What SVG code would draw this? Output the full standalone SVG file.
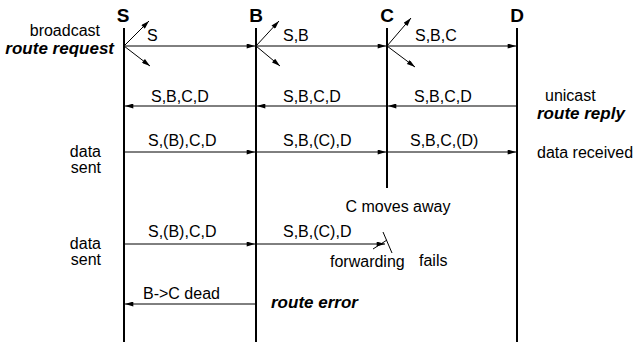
<svg xmlns="http://www.w3.org/2000/svg" width="637" height="343" viewBox="0 0 637 343">
<style>
text{font-family:"Liberation Sans",Arial,sans-serif;font-size:16px;fill:#000}
.h{font-size:19px;font-weight:bold;text-anchor:middle}
.bi{font-weight:bold;font-style:italic;font-size:17px}
.life{stroke:#000;stroke-width:2;fill:none}
.msg{stroke:#000;stroke-width:1;fill:none;marker-end:url(#ah)}
.br{stroke:#000;stroke-width:1;fill:none;marker-end:url(#ah)}
</style>
<defs>
<marker id="ah" viewBox="0 0 10 6" refX="10" refY="3" markerWidth="10" markerHeight="5" markerUnits="userSpaceOnUse" orient="auto">
<path d="M0,0 L10,3 L0,6 z" fill="#000"/>
</marker>
</defs>
<rect width="637" height="343" fill="#fff"/>
<g id="node-S"><text class="h" x="123" y="22">S</text><line class="life" x1="124" y1="28" x2="124" y2="342"/></g>
<g id="node-B"><text class="h" x="256" y="22">B</text><line class="life" x1="256" y1="28" x2="256" y2="342"/></g>
<g id="node-C"><text class="h" x="387" y="22">C</text><line class="life" x1="387" y1="28" x2="387" y2="188"/></g>
<g id="node-D"><text class="h" x="517" y="22">D</text><line class="life" x1="517" y1="28" x2="517" y2="342"/></g>
<g id="connectors">
<line class="br" x1="124" y1="46" x2="149" y2="21"/>
<line class="br" x1="124" y1="46" x2="150" y2="66"/>
<line class="msg" x1="124" y1="46" x2="255" y2="46"/>
<line class="br" x1="256" y1="46" x2="279" y2="21"/>
<line class="br" x1="256" y1="46" x2="280" y2="66"/>
<line class="msg" x1="256" y1="46" x2="386" y2="46"/>
<line class="br" x1="387" y1="46" x2="411" y2="18"/>
<line class="br" x1="387" y1="46" x2="415" y2="67"/>
<line class="msg" x1="387" y1="46" x2="516" y2="46"/>
<line class="msg" x1="517" y1="106" x2="388" y2="106"/>
<line class="msg" x1="387" y1="106" x2="257" y2="106"/>
<line class="msg" x1="256" y1="106" x2="125" y2="106"/>
<line class="msg" x1="124" y1="152" x2="255" y2="152"/>
<line class="msg" x1="256" y1="152" x2="386" y2="152"/>
<line class="msg" x1="387" y1="152" x2="516" y2="152"/>
<line class="msg" x1="124" y1="244" x2="255" y2="244"/>
<line class="msg" x1="256" y1="244" x2="385" y2="244"/>
<line stroke="#000" stroke-width="1" x1="383" y1="232" x2="392" y2="253"/>
<line stroke="#000" stroke-width="1" x1="373" y1="249" x2="387" y2="240"/>
<line class="msg" x1="256" y1="304" x2="125" y2="304"/>
</g>
<g id="labels">
<text x="100" y="36" text-anchor="end">broadcast</text>
<text class="bi" x="114" y="54" text-anchor="end">route request</text>
<text x="147" y="41">S</text>
<text x="283" y="41">S,B</text>
<text x="415" y="41">S,B,C</text>
<text x="151" y="102">S,B,C,D</text>
<text x="283" y="102">S,B,C,D</text>
<text x="414" y="102">S,B,C,D</text>
<text x="545" y="101">unicast</text>
<text class="bi" x="537" y="119">route reply</text>
<text x="101" y="157" text-anchor="end">data</text>
<text x="101" y="173" text-anchor="end">sent</text>
<text x="148" y="146">S,(B),C,D</text>
<text x="283" y="146">S,B,(C),D</text>
<text x="410" y="146">S,B,C,(D)</text>
<text x="537" y="158">data received</text>
<text x="398" y="212" text-anchor="middle">C moves away</text>
<text x="101" y="249" text-anchor="end">data</text>
<text x="101" y="265" text-anchor="end">sent</text>
<text x="148" y="237">S,(B),C,D</text>
<text x="283" y="237">S,B,(C),D</text>
<text x="330" y="267">forwarding</text>
<text x="419" y="266">fails</text>
<text x="143" y="299">B-&gt;C dead</text>
<text class="bi" x="271" y="308">route error</text>
</g>
</svg>
